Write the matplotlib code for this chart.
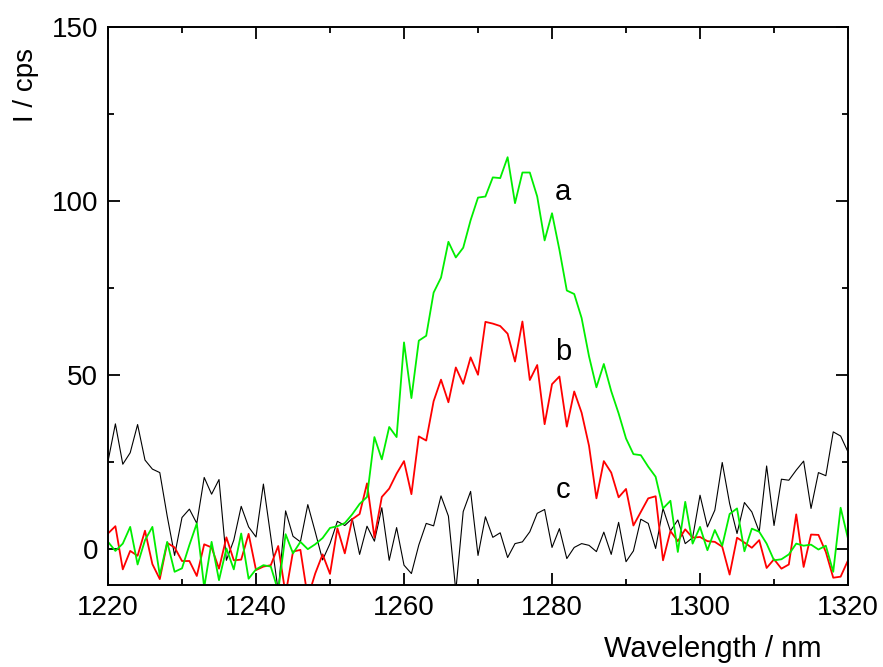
import matplotlib
matplotlib.use("Agg")
import matplotlib.pyplot as plt
from matplotlib.ticker import MultipleLocator

plt.rcParams['font.family'] = ['Liberation Sans', 'DejaVu Sans']

# longitud de onda, pasos de 1 nm
wavelength = list(range(1220, 1321))

# curva a (verde)
serie_a = [
    2.1, -0.5, 1.6, 6.4, -4.4, 2.6, 6.4, -7.5, 2.1, -6.5,
    -5.5, 1.2, 7.4, -11, 2.1, -8.9, 0.2, -5.8, 4.5, -8.5,
    -5.8, -4.6, -5.0, -12, 4.3, -1.2, 2.1, 0.0, 1.4, 3.2,
    6.1, 6.6, 7.5, 10.0, 13.0, 15.0, 32.2, 25.8, 35.1, 32.2,
    59.4, 43.4, 59.9, 61.3, 73.7, 78.0, 88.3, 83.8, 86.6, 94.5,
    101.0, 101.3, 106.8, 106.6, 112.6, 99.4, 108.2, 108.2, 101.3, 88.7,
    96.5, 86.0, 74.3, 73.3, 66.4, 55.4, 46.5, 53.2, 45.4, 39.0,
    31.8, 27.3, 27.0, 23.7, 20.8, 11.7, 13.9, -0.8, 13.6, 1.6,
    6.4, -0.3, 5.5, 1.0, 10.1, 11.7, -0.6, 5.9, 5.0, 1.6,
    -3.2, -2.9, -1.5, 1.6, 1.0, 1.3, -0.1, 1.0, -6.5, 11.9,
    3.0,
]

# curva b (roja)
serie_b = [
    4.5, 6.6, -5.8, -0.5, -1.9, 5.3, -4.3, -8.6, 1.8, 0.5,
    -3.4, -3.4, -7.7, 1.4, 0.5, -5.6, 3.4, -3.2, -3.0, 4.4,
    -6.0, -5.0, -4.6, 0.9, -13, -0.7, -0.2, -14, -7.0, -1.5,
    -7.1, 6.0, -1.2, 8.6, 10.1, 18.9, 3.4, 15.0, 17.4, 21.7,
    25.3, 15.8, 32.4, 31.2, 42.5, 48.7, 42.2, 52.2, 47.5, 55.1,
    50.1, 65.3, 64.8, 64.1, 61.9, 53.9, 65.4, 48.6, 52.9, 35.9,
    47.4, 49.6, 35.2, 45.3, 39.2, 29.7, 14.6, 25.3, 22.0, 14.9,
    17.3, 6.8, 10.7, 14.6, 15.2, -3.2, 5.2, 2.3, 5.7, 3.3,
    3.5, 2.3, 2.1, 0.7, -7.3, 3.3, 1.9, 0.4, 2.6, -5.4,
    -2.9, -5.6, -4.4, 10.0, -5.1, 4.2, 4.1, -0.8, -8.2, -7.9,
    -3.2,
]

# curva c (negra)
serie_c = [
    25.2, 36.0, 24.4, 27.7, 35.8, 25.6, 23.0, 22.0, 9.5, -1.8,
    9.1, 11.5, 7.4, 20.6, 15.8, 20.0, -3.2, 2.6, 12.3, 6.4,
    3.5, 18.7, 3.5, -12, 11.0, 3.7, 2.1, 12.8, 5.0, -3.1,
    1.6, 8.0, 6.8, 8.8, -1.5, 6.6, 2.3, 11.9, -3.2, 6.2,
    -4.6, -7.0, 1.2, 7.4, 6.7, 15.3, 9.5, -12, 10.8, 16.6,
    -1.8, 9.3, 3.4, 4.7, -2.4, 1.6, 2.1, 5.0, 10.3, 11.4,
    0.5, 5.9, -2.7, 0.5, 1.6, 1.1, -0.7, 4.9, -1.5, 7.7,
    -3.6, -0.5, 8.6, 7.4, 0.2, 11.7, 5.2, 8.4, 1.6, 3.3,
    15.5, 6.4, 11.2, 24.9, 13.1, 4.5, 13.4, 10.7, 5.0, 23.9,
    6.8, 20.1, 19.8, 22.7, 25.3, 11.7, 22.0, 21.1, 33.7, 32.5,
    27.9,
]

fig = plt.figure(figsize=(8.83, 6.67), dpi=100)
ax = fig.add_axes([0.1223, 0.1229, 0.8381, 0.8366])

ax.plot(wavelength, serie_c, color="black", lw=0.8)
ax.plot(wavelength, serie_b, color="#ff0000", lw=1.3)
ax.plot(wavelength, serie_a, color="#00ee00", lw=1.3)

# etiquetas de las curvas
ax.text(1281.5, 102.6, "a", fontsize=21, ha="center", va="center")
ax.text(1281.5, 56.6, "b", fontsize=21, ha="center", va="center")
ax.text(1281.5, 17.0, "c", fontsize=21, ha="center", va="center")

ax.set_xlim(1220, 1320)
ax.set_ylim(-10.3, 150)
ax.xaxis.set_major_locator(MultipleLocator(20))
ax.xaxis.set_minor_locator(MultipleLocator(10))
ax.yaxis.set_major_locator(MultipleLocator(50))
ax.yaxis.set_minor_locator(MultipleLocator(25))
ax.tick_params(which="both", direction="in", top=True, right=True, labelsize=20, width=1.3)
ax.tick_params(which="major", length=8.5, pad=7)
ax.tick_params(which="minor", length=4.5)
for s in ax.spines.values():
    s.set_linewidth(1.4)

fig.text(0.029, 0.872, "I / cps", rotation=90, fontsize=20, ha="center", va="center")
fig.text(0.807, 0.027, "Wavelength / nm", fontsize=21, ha="center", va="center")

fig.savefig("out.png", dpi=100)
